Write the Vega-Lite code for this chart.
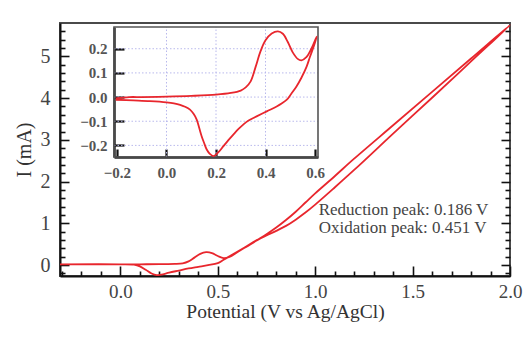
{
  "$schema": "https://vega.github.io/schema/vega-lite/v6.json",
  "width": 450,
  "height": 253,
  "autosize": {"type": "none"},
  "padding": {"left": 60, "top": 23, "right": 13, "bottom": 64},
  "background": "white",
  "config": {
    "view": {"stroke": "#4a4a4a", "strokeWidth": 2},
    "font": "Liberation Serif",
    "axis": {"labelFlush": false, "labelOverlap": false, "grid": false}
  },
  "datasets": {
    "cv": [
      {"i": 1, "E": -0.31, "I": 0.02}, {"i": 2, "E": -0.2, "I": 0.02}, {"i": 3, "E": -0.1, "I": 0.02},
      {"i": 4, "E": 0.0, "I": 0.02}, {"i": 5, "E": 0.1, "I": 0.02}, {"i": 6, "E": 0.2, "I": 0.025},
      {"i": 7, "E": 0.28, "I": 0.03}, {"i": 8, "E": 0.32, "I": 0.045}, {"i": 9, "E": 0.35, "I": 0.09},
      {"i": 10, "E": 0.38, "I": 0.18}, {"i": 11, "E": 0.41, "I": 0.27}, {"i": 12, "E": 0.44, "I": 0.31},
      {"i": 13, "E": 0.47, "I": 0.29}, {"i": 14, "E": 0.5, "I": 0.22}, {"i": 15, "E": 0.53, "I": 0.17},
      {"i": 16, "E": 0.56, "I": 0.2}, {"i": 17, "E": 0.6, "I": 0.31}, {"i": 18, "E": 0.65, "I": 0.45},
      {"i": 19, "E": 0.7, "I": 0.59}, {"i": 20, "E": 0.75, "I": 0.71}, {"i": 21, "E": 0.8, "I": 0.82},
      {"i": 22, "E": 0.85, "I": 0.94}, {"i": 23, "E": 0.9, "I": 1.09}, {"i": 24, "E": 0.95, "I": 1.26},
      {"i": 25, "E": 1.0, "I": 1.45}, {"i": 26, "E": 1.1, "I": 1.86}, {"i": 27, "E": 1.2, "I": 2.28},
      {"i": 28, "E": 1.4, "I": 3.15}, {"i": 29, "E": 1.6, "I": 4.01}, {"i": 30, "E": 1.8, "I": 4.88},
      {"i": 31, "E": 2.0, "I": 5.75},
      {"i": 32, "E": 1.8, "I": 4.95}, {"i": 33, "E": 1.6, "I": 4.15}, {"i": 34, "E": 1.4, "I": 3.35},
      {"i": 35, "E": 1.2, "I": 2.55}, {"i": 36, "E": 1.1, "I": 2.13}, {"i": 37, "E": 1.0, "I": 1.72},
      {"i": 38, "E": 0.95, "I": 1.5}, {"i": 39, "E": 0.9, "I": 1.28}, {"i": 40, "E": 0.85, "I": 1.08},
      {"i": 41, "E": 0.8, "I": 0.9}, {"i": 42, "E": 0.75, "I": 0.74}, {"i": 43, "E": 0.7, "I": 0.6},
      {"i": 44, "E": 0.65, "I": 0.46}, {"i": 45, "E": 0.6, "I": 0.32}, {"i": 46, "E": 0.56, "I": 0.21},
      {"i": 47, "E": 0.53, "I": 0.13}, {"i": 48, "E": 0.5, "I": 0.05}, {"i": 49, "E": 0.45, "I": 0.0},
      {"i": 50, "E": 0.4, "I": -0.04}, {"i": 51, "E": 0.35, "I": -0.08}, {"i": 52, "E": 0.3, "I": -0.13},
      {"i": 53, "E": 0.25, "I": -0.18}, {"i": 54, "E": 0.21, "I": -0.225}, {"i": 55, "E": 0.186, "I": -0.24},
      {"i": 56, "E": 0.16, "I": -0.2}, {"i": 57, "E": 0.13, "I": -0.11}, {"i": 58, "E": 0.1, "I": -0.03},
      {"i": 59, "E": 0.07, "I": 0.01}, {"i": 60, "E": 0.0, "I": 0.02}, {"i": 61, "E": -0.31, "I": 0.02}
    ],
    "inset": [
      {"i": 1, "E": -0.205, "I": -0.005}, {"i": 2, "E": -0.15, "I": 0.0}, {"i": 3, "E": -0.1, "I": 0.0},
      {"i": 4, "E": 0.0, "I": 0.002}, {"i": 5, "E": 0.1, "I": 0.005}, {"i": 6, "E": 0.2, "I": 0.01},
      {"i": 7, "E": 0.26, "I": 0.017}, {"i": 8, "E": 0.3, "I": 0.027}, {"i": 9, "E": 0.32, "I": 0.04},
      {"i": 10, "E": 0.34, "I": 0.065}, {"i": 11, "E": 0.36, "I": 0.125}, {"i": 12, "E": 0.38, "I": 0.19},
      {"i": 13, "E": 0.4, "I": 0.235}, {"i": 14, "E": 0.425, "I": 0.263}, {"i": 15, "E": 0.45, "I": 0.272},
      {"i": 16, "E": 0.47, "I": 0.262}, {"i": 17, "E": 0.49, "I": 0.228}, {"i": 18, "E": 0.51, "I": 0.185},
      {"i": 19, "E": 0.53, "I": 0.158}, {"i": 20, "E": 0.545, "I": 0.152}, {"i": 21, "E": 0.565, "I": 0.165},
      {"i": 22, "E": 0.585, "I": 0.2}, {"i": 23, "E": 0.6, "I": 0.235}, {"i": 24, "E": 0.607, "I": 0.25},
      {"i": 25, "E": 0.595, "I": 0.21}, {"i": 26, "E": 0.58, "I": 0.168}, {"i": 27, "E": 0.566, "I": 0.126},
      {"i": 28, "E": 0.545, "I": 0.08}, {"i": 29, "E": 0.525, "I": 0.044}, {"i": 30, "E": 0.505, "I": 0.015},
      {"i": 31, "E": 0.486, "I": -0.011}, {"i": 32, "E": 0.465, "I": -0.027}, {"i": 33, "E": 0.445, "I": -0.039},
      {"i": 34, "E": 0.405, "I": -0.059}, {"i": 35, "E": 0.364, "I": -0.08}, {"i": 36, "E": 0.33, "I": -0.098},
      {"i": 37, "E": 0.31, "I": -0.114}, {"i": 38, "E": 0.29, "I": -0.133}, {"i": 39, "E": 0.27, "I": -0.155},
      {"i": 40, "E": 0.25, "I": -0.178}, {"i": 41, "E": 0.23, "I": -0.203}, {"i": 42, "E": 0.21, "I": -0.228},
      {"i": 43, "E": 0.19, "I": -0.244}, {"i": 44, "E": 0.175, "I": -0.235}, {"i": 45, "E": 0.162, "I": -0.216},
      {"i": 46, "E": 0.152, "I": -0.19}, {"i": 47, "E": 0.142, "I": -0.162}, {"i": 48, "E": 0.132, "I": -0.127},
      {"i": 49, "E": 0.122, "I": -0.093}, {"i": 50, "E": 0.11, "I": -0.07}, {"i": 51, "E": 0.095, "I": -0.052},
      {"i": 52, "E": 0.075, "I": -0.04}, {"i": 53, "E": 0.055, "I": -0.032}, {"i": 54, "E": 0.03, "I": -0.026},
      {"i": 55, "E": 0.0, "I": -0.022}, {"i": 56, "E": -0.067, "I": -0.017}, {"i": 57, "E": -0.134, "I": -0.014},
      {"i": 58, "E": -0.205, "I": -0.011}
    ],
    "notes": [
      {"E": 1.018, "I": 1.32, "label": "Reduction peak: 0.186 V"},
      {"E": 1.018, "I": 0.89, "label": "Oxidation peak: 0.451 V"}
    ],
    "gridx": [{"g": 0.0}, {"g": 0.2}, {"g": 0.4}],
    "gridy": [{"g": -0.2}, {"g": -0.1}, {"g": 0.0}, {"g": 0.1}, {"g": 0.2}]
  },
  "layer": [
    {
      "data": {"name": "cv"},
      "mark": {"type": "line", "color": "#e8262d", "strokeWidth": 1.8, "interpolate": "catmull-rom"},
      "encoding": {
        "x": {"field": "E", "type": "quantitative", "scale": {"domain": [-0.31, 2.0], "nice": false, "zero": false},
          "axis": {"orient": "bottom", "values": [0, 0.5, 1, 1.5, 2], "format": ".1f", "ticks": false,
            "domainColor": "#111", "domainWidth": 2, "labelFontSize": 19, "labelColor": "#444", "labelPadding": 6,
            "title": "Potential (V vs Ag/AgCl)", "titleFontSize": 19.5, "titleFontWeight": "normal", "titleColor": "#333", "titlePadding": 1}},
        "y": {"field": "I", "type": "quantitative", "scale": {"domain": [-0.26, 5.8], "nice": false, "zero": false},
          "axis": {"orient": "left", "values": [0, 1, 2, 3, 4, 5], "format": "d", "ticks": false,
            "domainColor": "#111", "domainWidth": 2, "labelFontSize": 20, "labelColor": "#444", "labelPadding": 10,
            "title": "I (mA)", "titleFontSize": 20, "titleFontWeight": "normal", "titleColor": "#333", "titlePadding": 6}},
        "order": {"field": "i", "type": "quantitative"}
      }
    },
    {
      "data": {"name": "cv"},
      "mark": {"type": "line", "opacity": 0},
      "encoding": {
        "x": {"field": "E", "type": "quantitative", "scale": {"domain": [-0.31, 2.0], "nice": false, "zero": false},
          "axis": {"orient": "top", "offset": -253, "values": [0, 0.5, 1, 1.5, 2], "tickSize": 10, "tickColor": "#111", "tickWidth": 1.6, "labels": false, "domain": false, "title": null}},
        "y": {"field": "I", "type": "quantitative", "scale": {"domain": [-0.26, 5.8], "nice": false, "zero": false},
          "axis": {"orient": "right", "offset": -450, "values": [0, 1, 2, 3, 4, 5], "tickSize": 9, "tickColor": "#111", "tickWidth": 1.6, "labels": false, "domain": false, "title": null}}
      }
    },
    {
      "data": {"name": "cv"},
      "mark": {"type": "line", "opacity": 0},
      "encoding": {
        "x": {"field": "E", "type": "quantitative", "scale": {"domain": [-0.31, 2.0], "nice": false, "zero": false},
          "axis": {"orient": "top", "offset": -253, "values": [-0.3, -0.2, -0.1, 0.1, 0.2, 0.3, 0.4, 0.6, 0.7, 0.8, 0.9, 1.1, 1.2, 1.3, 1.4, 1.6, 1.7, 1.8, 1.9],
            "tickSize": 5, "tickColor": "#111", "tickWidth": 1.6, "labels": false, "domain": false, "title": null}},
        "y": {"field": "I", "type": "quantitative", "scale": {"domain": [-0.26, 5.8], "nice": false, "zero": false},
          "axis": {"orient": "right", "offset": -450, "values": [-0.2, 0.2, 0.4, 0.6, 0.8, 1.2, 1.4, 1.6, 1.8, 2.2, 2.4, 2.6, 2.8, 3.2, 3.4, 3.6, 3.8, 4.2, 4.4, 4.6, 4.8, 5.2, 5.4, 5.6],
            "tickSize": 5, "tickColor": "#111", "tickWidth": 1.6, "labels": false, "domain": false, "title": null}}
      }
    },
    {
      "data": {"name": "cv"},
      "mark": {"type": "line", "opacity": 0},
      "encoding": {
        "x": {"field": "E", "type": "quantitative", "scale": {"domain": [-0.31, 2.0], "nice": false, "zero": false}, "axis": null},
        "y": {"field": "I", "type": "quantitative", "scale": {"domain": [-0.26, 5.8], "nice": false, "zero": false},
          "axis": {"orient": "left", "offset": -450, "values": [0, 1, 2, 3, 4, 5], "tickSize": 9, "tickColor": "#111", "tickWidth": 1.6, "labels": false, "domain": false, "title": null}}
      }
    },
    {
      "data": {"name": "cv"},
      "mark": {"type": "line", "opacity": 0},
      "encoding": {
        "x": {"field": "E", "type": "quantitative", "scale": {"domain": [-0.31, 2.0], "nice": false, "zero": false}, "axis": null},
        "y": {"field": "I", "type": "quantitative", "scale": {"domain": [-0.26, 5.8], "nice": false, "zero": false},
          "axis": {"orient": "left", "offset": -450, "values": [-0.2, 0.2, 0.4, 0.6, 0.8, 1.2, 1.4, 1.6, 1.8, 2.2, 2.4, 2.6, 2.8, 3.2, 3.4, 3.6, 3.8, 4.2, 4.4, 4.6, 4.8, 5.2, 5.4, 5.6],
            "tickSize": 5, "tickColor": "#111", "tickWidth": 1.6, "labels": false, "domain": false, "title": null}}
      }
    },
    {
      "data": {"name": "notes"},
      "mark": {"type": "text", "align": "left", "baseline": "middle", "fontSize": 17, "color": "#444", "font": "Liberation Serif"},
      "encoding": {
        "x": {"field": "E", "type": "quantitative", "scale": {"domain": [-0.31, 2.0], "nice": false, "zero": false}, "axis": null},
        "y": {"field": "I", "type": "quantitative", "scale": {"domain": [-0.26, 5.8], "nice": false, "zero": false}, "axis": null},
        "text": {"field": "label", "type": "nominal"}
      }
    },
    {
      "data": {"name": "gridx"},
      "mark": {"type": "rule", "color": "#b9b9ec", "strokeDash": [1.5, 2], "strokeWidth": 1},
      "encoding": {
        "x": {"field": "g", "type": "quantitative", "scale": {"domain": [-0.212, 0.612], "range": [54, 258], "nice": false, "zero": false}, "axis": null},
        "y": {"datum": -0.248, "type": "quantitative", "scale": {"domain": [-0.248, 0.29], "range": [134, 4], "nice": false, "zero": false}, "axis": null},
        "y2": {"datum": 0.29}
      }
    },
    {
      "data": {"name": "gridy"},
      "mark": {"type": "rule", "color": "#b9b9ec", "strokeDash": [1.5, 2], "strokeWidth": 1},
      "encoding": {
        "y": {"field": "g", "type": "quantitative", "scale": {"domain": [-0.248, 0.29], "range": [134, 4], "nice": false, "zero": false}, "axis": null},
        "x": {"datum": -0.212, "type": "quantitative", "scale": {"domain": [-0.212, 0.612], "range": [54, 258], "nice": false, "zero": false}, "axis": null},
        "x2": {"datum": 0.612}
      }
    },
    {
      "data": {"values": [{}]},
      "mark": {"type": "rect", "filled": false, "stroke": "#555", "strokeWidth": 1.6},
      "encoding": {
        "x": {"datum": -0.212, "type": "quantitative", "scale": {"domain": [-0.212, 0.612], "range": [54, 258], "nice": false, "zero": false}, "axis": null},
        "x2": {"datum": 0.612},
        "y": {"datum": -0.248, "type": "quantitative", "scale": {"domain": [-0.248, 0.29], "range": [134, 4], "nice": false, "zero": false}, "axis": null},
        "y2": {"datum": 0.29}
      }
    },
    {
      "data": {"name": "inset"},
      "mark": {"type": "line", "color": "#e8262d", "strokeWidth": 1.8, "interpolate": "catmull-rom"},
      "encoding": {
        "x": {"field": "E", "type": "quantitative", "scale": {"domain": [-0.212, 0.612], "range": [54, 258], "nice": false, "zero": false},
          "axis": {"orient": "bottom", "offset": -119, "values": [-0.2, 0, 0.2, 0.4, 0.6], "format": ".1f", "ticks": false,
            "domainColor": "#222", "domainWidth": 2.5, "labelFontSize": 15, "labelFontWeight": "bold", "labelColor": "#555", "labelPadding": 8, "title": null}},
        "y": {"field": "I", "type": "quantitative", "scale": {"domain": [-0.248, 0.29], "range": [134, 4], "nice": false, "zero": false},
          "axis": {"orient": "left", "offset": -54, "values": [-0.2, -0.1, 0, 0.1, 0.2], "format": ".1f", "ticks": false,
            "domainColor": "#222", "domainWidth": 2.5, "labelFontSize": 15, "labelFontWeight": "bold", "labelColor": "#555", "labelPadding": 7, "title": null}},
        "order": {"field": "i", "type": "quantitative"}
      }
    },
    {
      "data": {"name": "inset"},
      "mark": {"type": "line", "opacity": 0},
      "encoding": {
        "x": {"field": "E", "type": "quantitative", "scale": {"domain": [-0.212, 0.612], "range": [54, 258], "nice": false, "zero": false},
          "axis": {"orient": "top", "offset": -134, "values": [-0.2, 0, 0.2, 0.4, 0.6], "tickSize": 8, "tickColor": "#111", "tickWidth": 2.2, "labels": false, "domain": false, "title": null}},
        "y": {"field": "I", "type": "quantitative", "scale": {"domain": [-0.248, 0.29], "range": [134, 4], "nice": false, "zero": false},
          "axis": {"orient": "right", "offset": -396, "values": [-0.2, -0.1, 0, 0.1, 0.2], "tickSize": 10, "tickColor": "#111", "tickWidth": 2.2, "labels": false, "domain": false, "title": null}}
      }
    }
  ],
  "resolve": {"scale": {"x": "independent", "y": "independent"}, "axis": {"x": "independent", "y": "independent"}}
}
